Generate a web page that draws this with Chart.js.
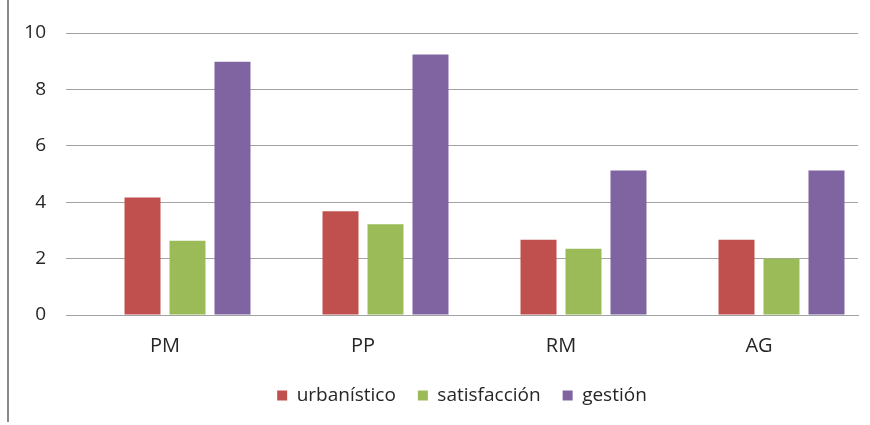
<!DOCTYPE html>
<html>
<head>
<meta charset="utf-8">
<script src="https://cdn.jsdelivr.net/npm/chart.js@4.4.0/dist/chart.umd.min.js"></script>
<style>
  html, body { margin: 0; padding: 0; background: #fff; }
  #wrap { position: relative; width: 870px; height: 425px; }
  #edge { position: absolute; left: 7px; top: 0; width: 2px; height: 422px; background: #8a8a8a; }
</style>
</head>
<body>
<div id="wrap">
  <canvas id="chart" width="870" height="425"></canvas>
  <div id="edge"></div>
</div>
<script>
const categories = ["PM", "PP", "RM", "AG"];
const urbanistico = [4.17, 3.68, 2.67, 2.67];
const satisfaccion = [2.63, 3.22, 2.35, 2.0];
const gestion = [8.98, 9.24, 5.12, 5.12];
// the source chart has an empty first series, which shifts the bars right
const vacio = [null, null, null, null];
const yTicks = [0, 2, 4, 6, 8, 10];

const FONT = "'Open Sans', 'DejaVu Sans', sans-serif";
const TEXT = "#262626";
const GRID = "#a3a3a3";

const ctx = document.getElementById("chart").getContext("2d");

new Chart(ctx, {
  type: "bar",
  data: {
    labels: categories,
    datasets: [
      { label: "", data: vacio, backgroundColor: "#ffffff" },
      { label: "urbanístico", data: urbanistico, backgroundColor: "#c0504d" },
      { label: "satisfacción", data: satisfaccion, backgroundColor: "#9bbb59" },
      { label: "gestión", data: gestion, backgroundColor: "#8064a2" },
    ],
  },
  options: {
    responsive: false,
    animation: false,
    datasets: {
      bar: {
        categoryPercentage: 0.909,
        barPercentage: 0.8,
        borderWidth: 0,
      },
    },
    layout: {
      padding: { left: 0, right: 12, top: 33, bottom: 10 },
    },
    plugins: {
      tooltip: { enabled: false },
      legend: {
        position: "bottom",
        fullSize: false,
        labels: {
          boxWidth: 10,
          boxHeight: 10,
          padding: 22,
          color: TEXT,
          font: { family: FONT, size: 19 },
          filter: (item) => item.text !== "",
        },
      },
    },
    scales: {
      x: {
        grid: { display: false, drawTicks: false },
        border: { display: true, color: GRID, width: 1 },
        ticks: {
          padding: 19,
          color: TEXT,
          font: { family: FONT, size: 20 },
        },
        afterFit: (scale) => { scale.height = 49; },
      },
      y: {
        min: 0,
        max: 10,
        afterBuildTicks: (scale) => {
          scale.ticks = yTicks.map((v) => ({ value: v }));
        },
        grid: { color: GRID, lineWidth: 1, drawTicks: false },
        border: { display: false },
        ticks: {
          padding: 20,
          color: TEXT,
          font: { family: FONT, size: 19 },
        },
        afterFit: (scale) => { scale.width = 66; },
      },
    },
  },
});
</script>
</body>
</html>
